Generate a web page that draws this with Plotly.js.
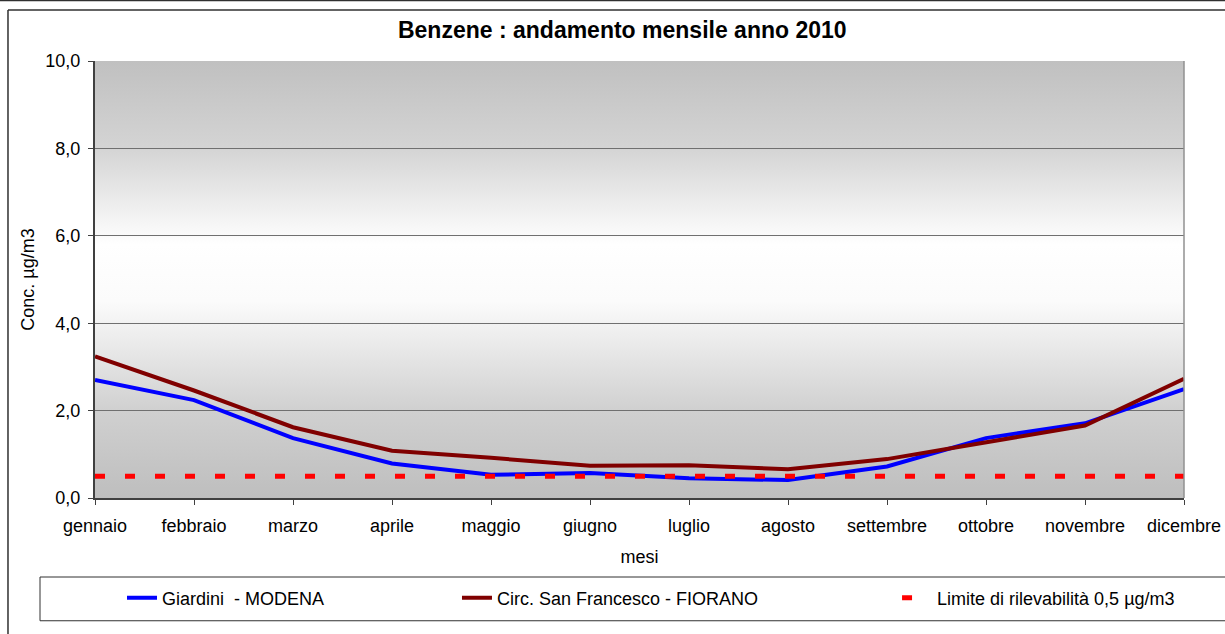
<!DOCTYPE html>
<html>
<head>
<meta charset="utf-8">
<script src="https://cdn.plot.ly/plotly-3.0.1.min.js"></script>
<style>
  html, body { margin: 0; padding: 0; background: #ffffff; }
  #chart { width: 1225px; height: 634px; }
</style>
</head>
<body>
<div id="chart"></div>
<script>
const months = ["gennaio", "febbraio", "marzo", "aprile", "maggio", "giugno",
  "luglio", "agosto", "settembre", "ottobre", "novembre", "dicembre"];
const giardiniModena = [2.70, 2.24, 1.37, 0.79, 0.53, 0.57, 0.45, 0.41, 0.72, 1.37, 1.71, 2.49];
const fioranoSanFrancesco = [3.24, 2.46, 1.62, 1.08, 0.92, 0.74, 0.75, 0.66, 0.89, 1.27, 1.66, 2.73];
const detectionLimit = [0.5, 0.5, 0.5, 0.5, 0.5, 0.5, 0.5, 0.5, 0.5, 0.5, 0.5, 0.5];
const yTicks = [0, 2, 4, 6, 8, 10];

const font = "Liberation Sans, Arial, sans-serif";

// gray-white-gray background of the plot area
const gradientSvg =
  '<svg xmlns="http://www.w3.org/2000/svg" width="10" height="100" preserveAspectRatio="none">' +
  '<defs><linearGradient id="g" x1="0" y1="0" x2="0" y2="1">' +
  '<stop offset="0" stop-color="#c0c0c0"/>' +
  '<stop offset="0.2" stop-color="#d4d4d4"/>' +
  '<stop offset="0.42" stop-color="#ffffff"/>' +
  '<stop offset="0.55" stop-color="#fbfbfb"/>' +
  '<stop offset="0.8" stop-color="#d0d0d0"/>' +
  '<stop offset="1" stop-color="#bebebe"/>' +
  '</linearGradient></defs><rect width="10" height="100" fill="url(#g)"/></svg>';

const plotData = [
  {
    type: "scatter",
    mode: "lines",
    name: "Giardini  - MODENA",
    x: months,
    y: giardiniModena,
    line: { color: "#0000ff", width: 4 },
    legend: "legend",
  },
  {
    type: "scatter",
    mode: "lines",
    name: "Circ. San Francesco - FIORANO",
    x: months,
    y: fioranoSanFrancesco,
    line: { color: "#800000", width: 4 },
    legend: "legend2",
  },
  {
    type: "scatter",
    mode: "lines",
    name: "Limite di rilevabilità 0,5 µg/m3",
    x: months,
    y: detectionLimit,
    line: { color: "#ff0000", width: 5, dash: "10px,20px" },
    legend: "legend3",
  },
];

const legendBase = {
  orientation: "h",
  bgcolor: "rgba(0,0,0,0)",
  borderwidth: 0,
  font: { family: font, size: 18, color: "#000000" },
  yanchor: "middle",
  xanchor: "left",
  y: -0.229,
};

const layout = {
  width: 1225,
  height: 634,
  margin: { l: 95, r: 41, t: 61, b: 136, pad: 0 },
  paper_bgcolor: "#ffffff",
  plot_bgcolor: "rgba(0,0,0,0)",
  font: { family: font, size: 18, color: "#000000" },
  separators: ",.",
  title: {
    text: "<b>Benzene : andamento mensile anno 2010</b>",
    font: { family: font, size: 23, color: "#000000" },
    xref: "container",
    x: 0.508,
    xanchor: "center",
    y: 0.953,
    yanchor: "middle",
  },
  xaxis: {
    type: "category",
    range: [0, 11],
    showgrid: false,
    zeroline: false,
    showline: true,
    linecolor: "#404040",
    linewidth: 2,
    ticks: "outside",
    ticklen: 5,
    tickcolor: "#404040",
    ticklabelstandoff: 5,
    tickfont: { family: font, size: 18 },
    title: { text: "mesi", font: { family: font, size: 18 }, standoff: 16 },
    fixedrange: true,
  },
  yaxis: {
    range: [0, 10],
    tickvals: yTicks,
    tickformat: ".1f",
    showgrid: true,
    gridcolor: "#707070",
    gridwidth: 1,
    zeroline: false,
    showline: true,
    linecolor: "#404040",
    linewidth: 2,
    ticks: "outside",
    ticklen: 5,
    tickcolor: "#404040",
    ticklabelstandoff: 4,
    tickfont: { family: font, size: 18 },
    title: { text: "Conc. µg/m3", font: { family: font, size: 18 }, standoff: 6 },
    fixedrange: true,
  },
  images: [
    {
      source: "data:image/svg+xml;charset=utf-8," + encodeURIComponent(gradientSvg),
      xref: "paper",
      yref: "paper",
      x: 0,
      y: 1,
      sizex: 1,
      sizey: 1,
      sizing: "stretch",
      layer: "below",
    },
  ],
  shapes: [
    // right border of plot area
    {
      type: "line", xref: "paper", yref: "paper",
      x0: 1, x1: 1, y0: 0, y1: 1,
      line: { color: "#909090", width: 1.5 },
    },
    // legend box
    {
      type: "rect", xref: "paper", yref: "paper",
      x0: -0.0505, x1: 1.0395, y0: -0.2809, y1: -0.1808,
      line: { color: "#303030", width: 1 },
      fillcolor: "rgba(0,0,0,0)",
    },
    // outer chart frame (left and top)
    {
      type: "line", xref: "paper", yref: "paper",
      x0: -0.0799, x1: -0.0799, y0: 1.1167, y1: -0.4,
      line: { color: "#303030", width: 1.5 },
    },
    {
      type: "line", xref: "paper", yref: "paper",
      x0: -0.0799, x1: 1.2, y0: 1.1167, y1: 1.1167,
      line: { color: "#303030", width: 1.5 },
    },
    {
      type: "line", xref: "paper", yref: "paper",
      x0: -0.1, x1: 1.2, y0: 1.1385, y1: 1.1385,
      line: { color: "#303030", width: 1.5 },
    },
  ],
  showlegend: true,
  legend: { ...legendBase, x: 0.0248 },
  legend2: { ...legendBase, x: 0.3324 },
  legend3: { ...legendBase, x: 0.7365 },
};

const config = { staticPlot: true, displayModeBar: false, responsive: false };

Plotly.newPlot(document.getElementById("chart"), plotData, layout, config);
</script>
</body>
</html>
